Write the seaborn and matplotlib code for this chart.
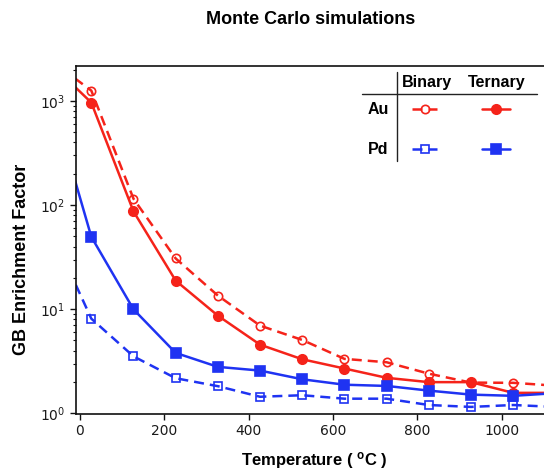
import numpy as np
import pandas as pd
import matplotlib
matplotlib.use('Agg')
import matplotlib.pyplot as plt
import seaborn as sns
from matplotlib.lines import Line2D

# ---- data ----
temperature = [-73, 27, 127, 227, 327, 427, 527, 627, 727, 827, 927, 1027, 1127]
au_binary = [2530, 1259, 115, 30.7, 13.5, 6.95, 5.06, 3.33, 3.09, 2.40, 1.97, 1.96, 1.84]
au_ternary = [2370, 966, 86.9, 18.8, 8.66, 4.56, 3.30, 2.69, 2.19, 1.99, 1.99, 1.57, 1.57]
pd_binary = [62, 8.11, 3.52, 2.17, 1.82, 1.44, 1.49, 1.38, 1.38, 1.20, 1.15, 1.20, 1.15]
pd_ternary = [1250, 49.6, 9.96, 3.80, 2.79, 2.57, 2.12, 1.88, 1.83, 1.65, 1.51, 1.47, 1.56]
x_ticks = [0, 200, 400, 600, 800, 1000]
row_labels = ["Au", "Pd"]
col_labels = ["Binary", "Ternary"]

RED = '#f5231a'
BLUE = '#1f33f2'

sns.set_style('ticks')
plt.rcParams['font.family'] = ['DejaVu Sans']
plt.rcParams['text.color'] = 'black'
plt.rcParams['lines.dashed_pattern'] = [4.0, 2.4]
plt.rcParams['mathtext.fontset'] = 'custom'
plt.rcParams['mathtext.bf'] = 'Liberation Sans:bold'
plt.rcParams['mathtext.rm'] = 'Liberation Sans'

fig = plt.figure(figsize=(5.44, 4.72), dpi=100)
W, H = 544, 472
ax_left, ax_right, ax_top, ax_bot = 75.7, 544, 66, 413.7
ax = fig.add_axes([ax_left / W, 1 - ax_bot / H, (ax_right - ax_left) / W, (ax_bot - ax_top) / H])

df = pd.DataFrame({'T': temperature, 'Au binary': au_binary, 'Au ternary': au_ternary,
                   'Pd binary': pd_binary, 'Pd ternary': pd_ternary})

series = [
    ('Au binary', RED, '--', 'o', 'none', 6.0),
    ('Au ternary', RED, '-', 'o', RED, 6.8),
    ('Pd binary', BLUE, '--', 's', 'none', 5.8),
    ('Pd ternary', BLUE, '-', 's', BLUE, 6.6),
]
for name, col, ls, mk, mfc, ms in series:
    sns.lineplot(data=df, x='T', y=name, ax=ax, color=col, linestyle=ls, lw=1.8,
                 marker=mk, markerfacecolor=mfc, markeredgecolor=col,
                 markeredgewidth=1.2, markersize=ms, sort=True, clip_on=True)

ax.set_yscale('log')
ax.set_xlim(-10, 1100)
ax.set_ylim(0.99, 2170)
ax.set_xticks(x_ticks)
ax.set_xticklabels([str(t) for t in x_ticks])
ax.set_xlabel('')
ax.set_ylabel('')
ax.spines['right'].set_visible(False)
for s in ['left', 'top', 'bottom']:
    ax.spines[s].set_linewidth(1.2)
    ax.spines[s].set_color('#111111')
ax.tick_params(axis='both', which='major', direction='out', length=4, width=1.0,
               labelsize=10, colors='#111111', labelcolor='#1a1a1a')
ax.tick_params(axis='y', which='minor', direction='out', length=2.5, width=0.8, colors='#111111')
ax.tick_params(axis='x', which='both', top=False)

# titles / labels
fig.text(311 / W, 1 - 20 / H, 'Monte Carlo simulations', ha='center', va='center',
         fontsize=13, fontweight='bold', family=['Liberation Sans'], color='black')
fig.text(22 / W, 1 - 259 / H, 'GB Enrichment Factor', ha='center', va='center', rotation=90,
         fontsize=13, fontweight='bold', family=['Liberation Sans'], color='black')
fig.text(314 / W, 1 - 461 / H, r'Temperature ( $\mathbf{^{o}}$C )', ha='center', va='center',
         fontsize=12, fontweight='bold', family=['Liberation Sans'], color='black')

# table-style legend
def fx(px):
    return px / W

def fy(py):
    return 1 - py / H

lf = dict(fontsize=11.5, fontweight='bold', family=['Liberation Sans'], ha='center', va='center',
          color='black')
fig.text(fx(426.7), fy(82.7), col_labels[0], **lf)
fig.text(fx(496.7), fy(82.7), col_labels[1], **lf)
fig.text(fx(378), fy(109.3), row_labels[0], **lf)
fig.text(fx(378), fy(149.3), row_labels[1], **lf)
fig.add_artist(Line2D([fx(361.7), fx(536.7)], [fy(94.3), fy(94.3)], color='#222222', lw=1.0))
fig.add_artist(Line2D([fx(396.7), fx(396.7)], [fy(72.3), fy(161)], color='#222222', lw=1.0))

for name, col, ls, mk, mfc, ms in series:
    row = 0 if name.startswith('Au') else 1
    yy = 109.3 if row == 0 else 149.3
    if 'binary' in name:
        x0, x1 = 411.7, 437.3
    else:
        x0, x1 = 482.3, 510.0
    xm = (x0 + x1) / 2
    fig.add_artist(Line2D([fx(x0), fx(xm), fx(x1)], [fy(yy)] * 3, color=col, linestyle=ls, lw=1.8,
                          marker=mk, markerfacecolor=mfc, markeredgecolor=col,
                          markeredgewidth=1.2, markersize=ms, markevery=[1]))

fig.savefig('out.png', dpi=100)
